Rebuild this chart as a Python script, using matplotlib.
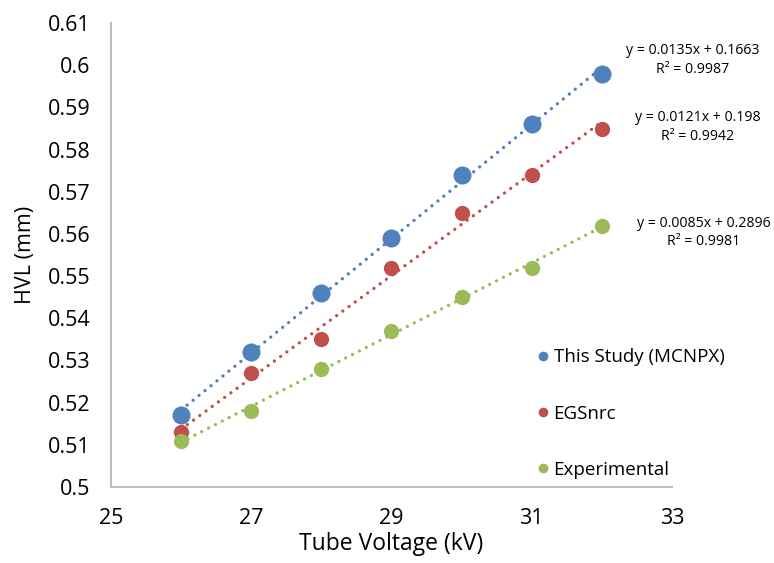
import numpy as np
import matplotlib.pyplot as plt
from matplotlib.lines import Line2D

plt.rcParams['font.family'] = ['Open Sans', 'DejaVu Sans']

# Data
kv = [26, 27, 28, 29, 30, 31, 32]
hvl_mcnpx = [0.517, 0.532, 0.546, 0.559, 0.574, 0.586, 0.598]
hvl_egsnrc = [0.513, 0.527, 0.535, 0.552, 0.565, 0.574, 0.585]
hvl_exp = [0.511, 0.518, 0.528, 0.537, 0.545, 0.552, 0.562]

labels = ["This Study (MCNPX)", "EGSnrc", "Experimental"]
colors = ["#4F81BD", "#C0504D", "#9BBB59"]
sizes = [13, 11, 11]
# where the trendline equations sit (figure fractions)
eq_pos = [(0.895, 0.8936), (0.901, 0.7744), (0.909, 0.587)]

fig = plt.figure(figsize=(7.74, 5.63), dpi=100)
ax = fig.add_axes([0.1434, 0.135, 0.7248, 0.824])

series = [hvl_mcnpx, hvl_egsnrc, hvl_exp]
x = np.array(kv)
for ys, c, ms, lab, (ex, ey) in zip(series, colors, sizes, labels, eq_pos):
    ys = np.array(ys)
    # linear trendline
    m, b = np.polyfit(x, ys, 1)
    r2 = 1 - np.sum((ys - (m * x + b)) ** 2) / np.sum((ys - ys.mean()) ** 2)
    ax.plot(x, m * x + b, linestyle=(0, (0.01, 2.3)), color=c, lw=2.4,
            dash_capstyle='round', zorder=2)
    ax.plot(x, ys, 'o', color=c, markersize=ms, markeredgewidth=0, zorder=3)
    fig.text(ex, ey, f"y = {m:.4f}x + {b:.4g}\nR² = {r2:.4f}", ha='center',
             va='center', fontsize=10.2, linespacing=1.3)

ax.set_xlim(25, 33)
ax.set_ylim(0.5, 0.61)
ax.set_xticks([25, 27, 29, 31, 33])
ax.set_yticks(np.arange(0.5, 0.6101, 0.01))
ax.set_yticklabels([f"{v:g}" for v in np.round(np.arange(0.5, 0.6101, 0.01), 2)])
ax.tick_params(length=0, labelsize=15.5, pad=15)

for s in ['top', 'right']:
    ax.spines[s].set_visible(False)
for s in ['left', 'bottom']:
    ax.spines[s].set_color('#BFBFBF')
    ax.spines[s].set_linewidth(1.5)

ax.set_xlabel("Tube Voltage (kV)", fontsize=16.5, labelpad=2)
ax.set_ylabel("HVL (mm)", fontsize=15.5, labelpad=8)

handles = [Line2D([], [], marker='o', linestyle='none', color=c,
                  markersize=7, markeredgewidth=0) for c in colors]
fig.legend(handles, labels, loc='upper left', bbox_to_anchor=(0.68, 0.395),
           frameon=False, fontsize=13.5, labelspacing=2.05, handletextpad=0.05,
           handlelength=1.0, borderaxespad=0)

fig.savefig("out.png", dpi=100)
